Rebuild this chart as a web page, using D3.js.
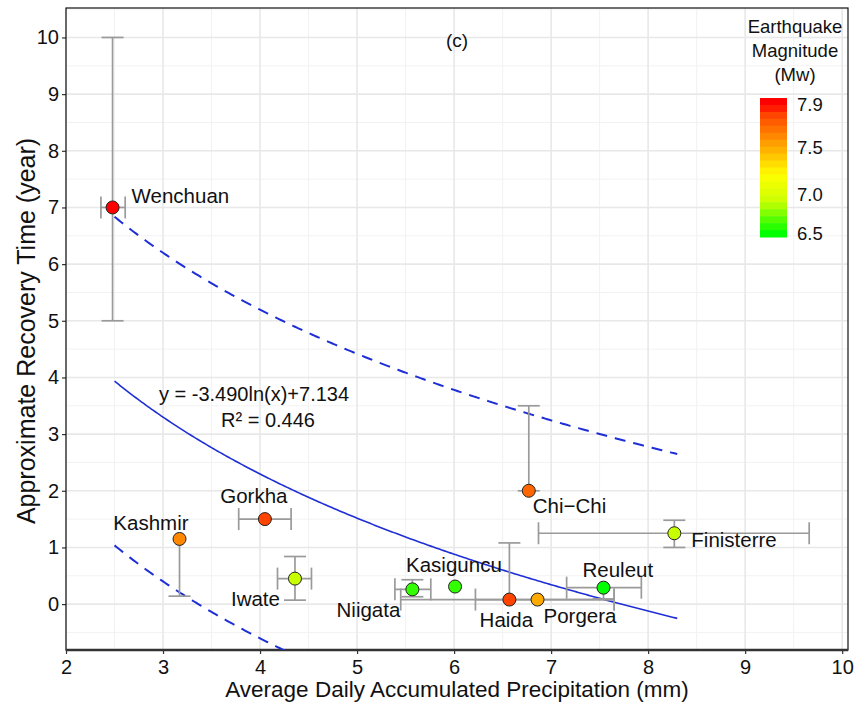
<!DOCTYPE html>
<html>
<head>
<meta charset="utf-8">
<script src="https://cdn.jsdelivr.net/npm/d3@7/dist/d3.min.js"></script>
<style>
  html, body { margin: 0; padding: 0; background: #ffffff; }
  svg { display: block; font-family: "Liberation Sans", Arial, Helvetica, sans-serif; }
</style>
</head>
<body>
<svg id="chart" width="859" height="705"></svg>
<script>
// ---------------- data ----------------
const events     = ["Wenchuan","Kashmir","Gorkha","Iwate","Niigata","Kasiguncu","Haida","Porgera","Chi\u2212Chi","Finisterre","Reuleut"];
const precip     = [2.48, 3.17, 4.05, 4.36, 5.57, 6.01, 6.57, 6.86, 6.77, 8.27, 7.54];
const recovery   = [7.0, 1.15, 1.5, 0.45, 0.26, 0.31, 0.08, 0.08, 2.0, 1.25, 0.29];
const magnitude  = [7.9, 7.6, 7.8, 6.9, 6.6, 6.6, 7.8, 7.5, 7.7, 6.9, 6.5];
const xErrLow    = [2.36, null, 3.78, 4.18, 5.39, null, 5.45, 6.22, null, 6.87, 7.16];
const xErrHigh   = [2.61, null, 4.32, 4.53, 5.76, null, 7.65, 7.65, null, 9.66, 7.93];
const yErrLow    = [5.0, 0.14, null, 0.07, 0.13, null, null, null, 2.0, 1.0, 0.09];
const yErrHigh   = [10.0, null, null, 0.84, 0.43, null, 1.08, null, 3.5, 1.48, null];

const fitCoef    = [-3.490, 7.134];     // y = a ln(x) + b
const fitRange   = [2.5, 8.3];
const bandOffset = 2.9;                 // dashed prediction band half-width
const xTicks     = [2,3,4,5,6,7,8,9,10];
const yTicks     = [0,1,2,3,4,5,6,7,8,9,10];
const legendTicks = [6.5, 7.0, 7.5, 7.9];
const legendTitle = ["Earthquake","Magnitude","(Mw)"];
const xTitle = "Average Daily Accumulated Precipitation (mm)";
const yTitle = "Approximate Recovery Time (year)";
const panelTag = "(c)";
const eqText = "y = -3.490ln(x)+7.134";
const r2Text = "R\u00b2 = 0.446";

// label placement (pixel offsets from point)
const labelOffsets = [
  {dx: 19, dy: -4, a: "start"},   // Wenchuan
  {dx: 9, dy: -9, a: "end"},      // Kashmir
  {dx: -11, dy: -16, a: "middle"},// Gorkha
  {dx: -15, dy: 27, a: "end"},    // Iwate
  {dx: -12, dy: 28, a: "end"},    // Niigata
  {dx: -49, dy: -15, a: "start"}, // Kasiguncu
  {dx: -3, dy: 27, a: "middle"},  // Haida
  {dx: 6, dy: 23, a: "start"},    // Porgera
  {dx: 4, dy: 22, a: "start"},    // Chi-Chi
  {dx: 17, dy: 14, a: "start"},   // Finisterre
  {dx: -21, dy: -11, a: "start"}  // Reuleut
];

// ---------------- layout ----------------
const svg = d3.select("#chart");
const P = {left: 66, right: 848, top: 8, bottom: 650};

const x = d3.scaleLinear().domain([2, 10.06]).range([P.left, P.right]);
const y = d3.scaleLinear().domain([-0.81, 10.52]).range([P.bottom, P.top]);

const color = d3.scaleLinear()
  .domain([6.5, 6.9, 7.2, 7.5, 7.7, 7.8, 7.9])
  .range(["#00ff00", "#c8ff00", "#ffff00", "#ffaa00", "#ff6600", "#ff4400", "#ff0000"])
  .interpolate(d3.interpolateRgb).clamp(true);

// clip
svg.append("defs").append("clipPath").attr("id","clip")
  .append("rect").attr("x",P.left).attr("y",P.top)
  .attr("width",P.right-P.left).attr("height",P.bottom-P.top);

// grid
const grid = svg.append("g");
const xMinor = d3.range(2.5, 10.06, 1);
const yMinor = d3.range(-0.5, 10.52, 1);
grid.selectAll(".xm").data(xMinor).join("line")
  .attr("x1", d=>x(d)).attr("x2", d=>x(d)).attr("y1",P.top).attr("y2",P.bottom)
  .attr("stroke","#f2f2f2").attr("stroke-width",1);
grid.selectAll(".ym").data(yMinor).join("line")
  .attr("y1", d=>y(d)).attr("y2", d=>y(d)).attr("x1",P.left).attr("x2",P.right)
  .attr("stroke","#f2f2f2").attr("stroke-width",1);
grid.selectAll(".xM").data(xTicks).join("line")
  .attr("x1", d=>x(d)).attr("x2", d=>x(d)).attr("y1",P.top).attr("y2",P.bottom)
  .attr("stroke","#e8e8e8").attr("stroke-width",1.6);
grid.selectAll(".yM").data(yTicks).join("line")
  .attr("y1", d=>y(d)).attr("y2", d=>y(d)).attr("x1",P.left).attr("x2",P.right)
  .attr("stroke","#e8e8e8").attr("stroke-width",1.6);

// axes
const fontTick = 20;
const xAxis = svg.append("g").attr("transform",`translate(0,${P.bottom})`)
  .call(d3.axisBottom(x).tickValues(xTicks).tickFormat(d3.format("d")).tickSize(4).tickPadding(6));
const yAxis = svg.append("g").attr("transform",`translate(${P.left},0)`)
  .call(d3.axisLeft(y).tickValues(yTicks).tickFormat(d3.format("d")).tickSize(4).tickPadding(3));
[xAxis, yAxis].forEach(g => {
  g.select(".domain").remove();
  g.selectAll(".tick line").attr("stroke","#333").attr("stroke-width",1.2);
  g.selectAll(".tick text").attr("fill","#111").style("font-size", fontTick+"px")
    .style("font-family",'"Liberation Sans", Arial, sans-serif');
});

// panel border
svg.append("rect").attr("x",P.left).attr("y",P.top)
  .attr("width",P.right-P.left).attr("height",P.bottom-P.top)
  .attr("fill","none").attr("stroke","#111").attr("stroke-width",1.2);
svg.append("line").attr("x1",P.left).attr("x2",P.right).attr("y1",P.bottom).attr("y2",P.bottom)
  .attr("stroke","#333").attr("stroke-width",2.4);

// titles
svg.append("text").attr("x", 457).attr("y", 697)
  .attr("text-anchor","middle").style("font-size","22.5px").attr("fill","#111").text(xTitle);
svg.append("text").attr("transform",`translate(35,331) rotate(-90)`)
  .attr("text-anchor","middle").style("font-size","25px").attr("fill","#111").text(yTitle);

// plot layer
const plot = svg.append("g").attr("clip-path","url(#clip)");

// fit + bands
const fitX = d3.range(fitRange[0], fitRange[1] + 1e-9, 0.02);
const fit = v => fitCoef[0]*Math.log(v) + fitCoef[1];
const lineGen = off => d3.line().x(d=>x(d)).y(d=>y(fit(d)+off));
plot.append("path").datum(fitX).attr("d", lineGen(0))
  .attr("fill","none").attr("stroke","#1f2fd6").attr("stroke-width",1.6);
plot.append("path").datum(fitX).attr("d", lineGen(bandOffset))
  .attr("fill","none").attr("stroke","#1f2fd6").attr("stroke-width",2).attr("stroke-dasharray","11,8");
plot.append("path").datum(fitX).attr("d", lineGen(-bandOffset))
  .attr("fill","none").attr("stroke","#1f2fd6").attr("stroke-width",2).attr("stroke-dasharray","11,8");

// error bars
const eb = plot.append("g").attr("stroke","#9a9a9a").attr("stroke-width",1.7).attr("fill","none");
const cap = 11;
events.forEach((e,i) => {
  const cx = x(precip[i]), cy = y(recovery[i]);
  if (xErrLow[i] !== null || xErrHigh[i] !== null) {
    const lo = xErrLow[i] ?? precip[i], hi = xErrHigh[i] ?? precip[i];
    eb.append("line").attr("x1",x(lo)).attr("x2",x(hi)).attr("y1",cy).attr("y2",cy);
    if (xErrLow[i] !== null) eb.append("line").attr("x1",x(lo)).attr("x2",x(lo)).attr("y1",cy-cap).attr("y2",cy+cap);
    if (xErrHigh[i] !== null) eb.append("line").attr("x1",x(hi)).attr("x2",x(hi)).attr("y1",cy-cap).attr("y2",cy+cap);
  }
  if (yErrLow[i] !== null || yErrHigh[i] !== null) {
    const lo = yErrLow[i] ?? recovery[i], hi = yErrHigh[i] ?? recovery[i];
    eb.append("line").attr("x1",cx).attr("x2",cx).attr("y1",y(lo)).attr("y2",y(hi));
    if (yErrLow[i] !== null) eb.append("line").attr("x1",cx-cap).attr("x2",cx+cap).attr("y1",y(lo)).attr("y2",y(lo));
    if (yErrHigh[i] !== null) eb.append("line").attr("x1",cx-cap).attr("x2",cx+cap).attr("y1",y(hi)).attr("y2",y(hi));
  }
});

// points
plot.append("g").selectAll("circle").data(d3.range(events.length)).join("circle")
  .attr("cx", i=>x(precip[i])).attr("cy", i=>y(recovery[i])).attr("r", 6.5)
  .attr("fill", i=>color(magnitude[i])).attr("stroke","#222").attr("stroke-width",1);

// point labels
svg.append("g").selectAll("text").data(d3.range(events.length)).join("text")
  .attr("x", i=>x(precip[i]) + labelOffsets[i].dx)
  .attr("y", i=>y(recovery[i]) + labelOffsets[i].dy)
  .attr("text-anchor", i=>labelOffsets[i].a)
  .style("font-size","20.5px").attr("fill","#111")
  .text(i=>events[i]);

// annotations
svg.append("text").attr("x",457).attr("y",47).attr("text-anchor","middle")
  .style("font-size","19px").attr("fill","#111").text(panelTag);
svg.append("text").attr("x",254).attr("y",401).attr("text-anchor","middle")
  .style("font-size","20px").attr("fill","#111").text(eqText);
svg.append("text").attr("x",268).attr("y",427).attr("text-anchor","middle")
  .style("font-size","20px").attr("fill","#111").text(r2Text);

// legend
const leg = svg.append("g");
const legY = d3.scaleLinear().domain(legendTicks).range([233, 194, 147, 104]);
const barTop = 98, barBot = 237, barX = 760, barW = 27;
legendTitle.forEach((t,k) => {
  leg.append("text").attr("x",795).attr("y",33 + k*24).attr("text-anchor","middle")
    .style("font-size","18.5px").attr("fill","#111").text(t);
});
const nBand = 20;
const bands = d3.range(nBand);
const bh = (barBot - barTop) / nBand;
leg.selectAll("rect.band").data(bands).join("rect")
  .attr("x",barX).attr("width",barW)
  .attr("y", k => barTop + k*bh).attr("height", bh + 0.5)
  .attr("fill", k => color(legY.invert(barTop + (k+0.5)*bh)));
leg.selectAll("text.tk").data(legendTicks).join("text")
  .attr("x",797).attr("y", d=>legY(d)+6.5)
  .style("font-size","18.5px").attr("fill","#111")
  .text(d=>d3.format(".1f")(d));
</script>
</body>
</html>
